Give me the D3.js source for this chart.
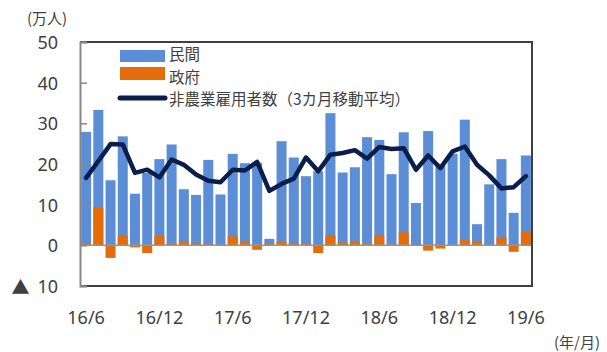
<!DOCTYPE html>
<html><head><meta charset="utf-8">
<script src="https://cdn.jsdelivr.net/npm/d3@7"></script>
<style>
body{margin:0;background:#fff;}
svg{display:block;font-family:"Noto Sans CJK JP","Noto Sans",sans-serif;}
.num{font-family:"Noto Sans","Open Sans",sans-serif;}
.tri{font-family:"Noto Sans CJK JP",sans-serif;}
</style></head><body>
<svg id="c" width="607" height="352"></svg>
<script>
const months = ["16/6","16/7","16/8","16/9","16/10","16/11","16/12","17/1","17/2","17/3","17/4","17/5","17/6","17/7","17/8","17/9","17/10","17/11","17/12","18/1","18/2","18/3","18/4","18/5","18/6","18/7","18/8","18/9","18/10","18/11","18/12","19/1","19/2","19/3","19/4","19/5","19/6"];
const privateJobs = [27.9,33.3,16.0,26.8,12.7,17.8,21.2,24.8,13.8,12.4,21.0,12.5,22.5,20.2,20.3,1.6,25.6,21.6,17.0,18.2,32.5,17.9,19.2,26.6,25.9,17.5,27.8,10.4,28.1,19.5,22.5,30.9,5.2,15.0,21.2,8.0,22.1];
const govJobs = [0.4,9.3,-3.1,2.4,-0.5,-1.9,2.4,0.5,0.9,0.6,0.2,0.1,2.2,1.0,-1.1,0.3,0.9,0.6,0.3,-1.9,2.5,0.7,1.0,0.3,2.4,0.2,3.2,0.1,-1.3,-0.8,0.1,1.3,1.0,0.1,2.0,-1.6,3.3];
const avg3m = [16.6,20.7,24.9,24.8,17.8,18.6,16.7,21.1,19.8,17.4,15.9,15.5,18.6,18.4,20.5,13.4,15.1,16.4,21.6,18.2,22.3,22.7,23.4,21.3,24.2,23.7,23.9,18.6,22.1,19.0,23.1,24.3,19.8,17.2,14.0,14.3,17.0];
const xTickLabels = ["16/6","16/12","17/6","17/12","18/6","18/12","19/6"];
const yTicks = [-10,0,10,20,30,40,50];
const legendLabels = ["民間","政府","非農業雇用者数（3カ月移動平均）"];

const svg = d3.select("#c");
const L=80, R=532, T=42, B=286;
const txt="#404040", blue="#5B8ED6", orange="#E46C0A", navy="#0A1E4C";

const x = d3.scaleBand().domain(months).range([L,R]).paddingInner(0.18).paddingOuter(0.09);
const y = d3.scaleLinear().domain([-10,50]).range([B,T]);

// bars
svg.append("g").selectAll("rect").data(months).join("rect")
  .attr("x",d=>x(d)).attr("width",x.bandwidth())
  .attr("y",(d,i)=>y(Math.max(0,privateJobs[i])))
  .attr("height",(d,i)=>Math.abs(y(privateJobs[i])-y(0)))
  .attr("fill",blue);
svg.append("g").selectAll("rect").data(months).join("rect")
  .attr("x",d=>x(d)).attr("width",x.bandwidth())
  .attr("y",(d,i)=>y(Math.max(0,govJobs[i])))
  .attr("height",(d,i)=>Math.abs(y(govJobs[i])-y(0)))
  .attr("fill",orange);

// zero line
svg.append("line").attr("x1",L).attr("x2",R).attr("y1",y(0)).attr("y2",y(0))
  .attr("stroke","#9e928a").attr("stroke-width",1.5);

// frame
svg.append("path").attr("d",`M${L},${T}H${R}V${B}H${L}`).attr("fill","none")
  .attr("stroke","#404040").attr("stroke-width",2);

// y axis
const yAxis = d3.axisRight(y).tickValues(yTicks).tickSize(7).tickFormat("");
const ya = svg.append("g").attr("transform",`translate(${L},0)`).call(yAxis);
ya.select(".domain").attr("stroke","#888").attr("stroke-width",2);
ya.selectAll(".tick line").attr("stroke","#888").attr("stroke-width",1.5);

const yl = svg.append("g").attr("font-size",18).attr("fill",txt).attr("class","num");
yTicks.forEach(v=>{
  const t = yl.append("text").attr("x",58).attr("y",y(v)).attr("text-anchor","end")
    .attr("dominant-baseline","central");
  if(v<0){
    t.append("tspan").attr("class","tri").attr("font-size",18).text("▲");
    t.append("tspan").attr("dx",8).text(String(-v));
  } else t.text(v);
});
svg.append("text").attr("x",27).attr("y",17).attr("dominant-baseline","central")
  .attr("font-size",15).attr("fill",txt).text("(万人)");

// x labels
const xl = svg.append("g").attr("font-size",18).attr("fill",txt).attr("class","num");
xTickLabels.forEach(m=>{
  xl.append("text").attr("x",x(m)+x.bandwidth()/2).attr("y",317)
    .attr("text-anchor","middle").attr("dominant-baseline","central").text(m);
});
svg.append("text").attr("x",600).attr("y",341).attr("text-anchor","end")
  .attr("dominant-baseline","central").attr("font-size",15).attr("fill",txt).text("(年/月)");

// line
const line = d3.line().x((d,i)=>x(months[i])+x.bandwidth()/2).y(d=>y(d));
svg.append("path").datum(avg3m).attr("d",line).attr("fill","none")
  .attr("stroke",navy).attr("stroke-width",4.5).attr("stroke-linejoin","round").attr("stroke-linecap","round");

// legend
const lg = svg.append("g").attr("font-size",15.5).attr("fill",txt);
lg.append("rect").attr("x",120).attr("y",50).attr("width",45).attr("height",12).attr("fill",blue);
lg.append("rect").attr("x",120).attr("y",67).attr("width",45).attr("height",13).attr("fill",orange);
lg.append("line").attr("x1",120).attr("x2",165).attr("y1",98).attr("y2",98)
  .attr("stroke",navy).attr("stroke-width",5).attr("stroke-linecap","round");
[53,76,98].forEach((yy,i)=>{
  lg.append("text").attr("x",169).attr("y",yy).attr("dominant-baseline","central").text(legendLabels[i]);
});
</script>
</body></html>
